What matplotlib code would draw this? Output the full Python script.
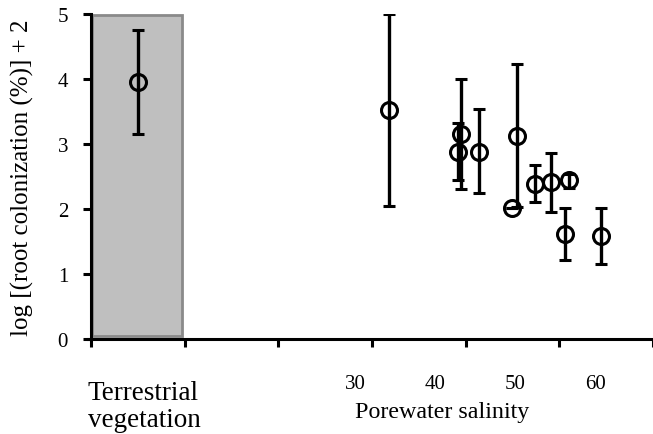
import matplotlib
matplotlib.use("Agg")
import matplotlib.pyplot as plt
from matplotlib.patches import Rectangle
from matplotlib.ticker import FixedLocator

# ---- data ----
salinity = [34.2, 43.2, 42.9, 45.5, 50.2, 49.6, 52.5, 54.5, 56.25, 56.7, 60.8]
colonization = [3.52, 3.16, 2.87, 2.88, 3.13, 2.02, 2.38, 2.41, 1.62, 2.44, 1.58]
err_upper = [5.00, 4.00, 3.32, 3.54, 4.23, 2.02, 2.67, 2.86, 2.01, 2.54, 2.01]
err_lower = [2.05, 2.31, 2.44, 2.24, 2.03, 2.02, 2.11, 1.96, 1.22, 2.33, 1.15]

terr_value = 3.96
terr_upper = 4.76
terr_lower = 3.16

salinity_ticks = [30, 40, 50, 60]
salinity_ticklabels = ["30", "40", "50", "60"]
yticks = [0, 1, 2, 3, 4, 5]

# ---- layout ----
W, H = 653, 435
fig = plt.figure(figsize=(W / 100, H / 100), dpi=100)
ax = fig.add_axes([91 / W, 1 - 340 / H, (653 - 91) / W, (340 - 15) / H])

xmin, xmax = -3.0, 67.25
ax.set_xlim(xmin, xmax)
ax.set_ylim(0, 5)
step = (xmax - xmin) / 6
tick_marks = [xmin + i * step for i in range(7)]

serif = ["Liberation Serif", "DejaVu Serif"]

# gray box (terrestrial vegetation)
box = Rectangle((xmin + 0.15, 0.04), step - 0.5, 4.95, facecolor="#bfbfbf",
                edgecolor="#8a8a8a", linewidth=2.0, zorder=1)
ax.add_patch(box)

terr_x = xmin + step / 2
ax.errorbar([terr_x], [terr_value],
            yerr=[[terr_value - terr_lower], [terr_upper - terr_value]],
            fmt="o", mfc="none", mec="black", mew=2.2, ms=11.5, color="black",
            elinewidth=2.4, capsize=4.2, capthick=2.4, zorder=3)

yerr = [[v - l for v, l in zip(colonization, err_lower)],
        [u - v for v, u in zip(colonization, err_upper)]]
ax.errorbar(salinity, colonization, yerr=yerr, fmt="o", mfc="none", mec="black",
            mew=2.2, ms=11.5, color="black", elinewidth=2.4, capsize=4.2,
            capthick=2.4, zorder=3)

# spines
for s in ["top", "right"]:
    ax.spines[s].set_visible(False)
ax.spines["left"].set_linewidth(2.2)
ax.spines["bottom"].set_linewidth(2.2)
ax.spines["bottom"].set_bounds(xmin - 0.4, xmax)

# y axis
ax.set_yticks(yticks)
ax.set_yticklabels([str(v) for v in yticks], fontfamily=serif, fontsize=15)
ax.tick_params(axis="y", direction="out", length=5.5, width=2.2, pad=11)

# x axis: marks at equal intervals, salinity labels
ax.xaxis.set_minor_locator(FixedLocator(tick_marks))
ax.set_xticks(salinity_ticks)
ax.set_xticklabels(salinity_ticklabels, fontfamily=serif, fontsize=15)
ax.tick_params(axis="x", which="major", length=0, pad=25)
ax.tick_params(axis="x", which="minor", direction="out", length=5.5, width=2.2)

fig.text(22 / W, 1 - 178 / H, "log [(root colonization (%)] + 2",
         fontfamily=serif, fontsize=18, rotation=90, ha="center", va="center")
fig.text(355 / W, 1 - 418 / H, "Porewater salinity", fontfamily=serif,
         fontsize=17.3, ha="left", va="baseline")
fig.text(88 / W, 1 - 400 / H, "Terrestrial", fontfamily=serif, fontsize=19.5,
         ha="left", va="baseline")
fig.text(88 / W, 1 - 427 / H, "vegetation", fontfamily=serif, fontsize=19.5,
         ha="left", va="baseline")

fig.savefig("out.png", dpi=100)
